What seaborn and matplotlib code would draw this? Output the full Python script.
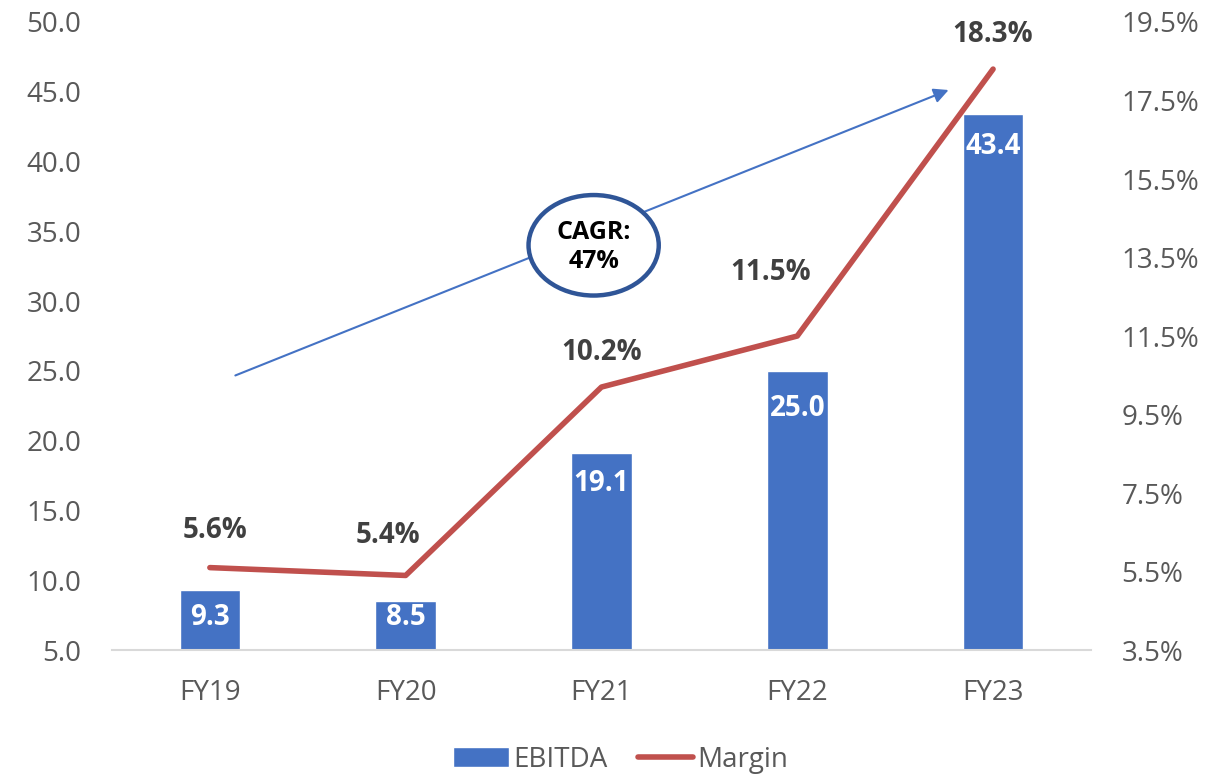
import matplotlib
matplotlib.use("Agg")
import matplotlib.pyplot as plt
import seaborn as sns
import pandas as pd
from matplotlib.patches import Ellipse

categories = ["FY19", "FY20", "FY21", "FY22", "FY23"]
ebitda = [9.3, 8.5, 19.1, 25.0, 43.4]
margin = [5.6, 5.4, 10.2, 11.5, 18.3]
left_ticks = [5.0, 10.0, 15.0, 20.0, 25.0, 30.0, 35.0, 40.0, 45.0, 50.0]
right_ticks = [3.5, 5.5, 7.5, 9.5, 11.5, 13.5, 15.5, 17.5, 19.5]

sns.set_theme(style="white")
plt.rcParams["font.family"] = ["Open Sans", "DejaVu Sans"]

BLUE = "#4472C4"
RED = "#C0504D"
GRAY = "#595959"

df = pd.DataFrame({"cat": categories, "ebitda": ebitda, "margin": margin})

fig = plt.figure(figsize=(12.29, 7.77), dpi=100)
ax = fig.add_axes([0.0911, 0.1634, 0.7966, 0.8083])

sns.barplot(data=df, x="cat", y="ebitda", color=BLUE, width=0.31, ax=ax,
            saturation=1, label="EBITDA")
ax.set_ylim(5, 50)
ax.set_xlim(-0.5, 4.5)
ax.set_yticks(left_ticks)
ax.set_yticklabels([f"{v:.1f}" for v in left_ticks])
ax.set_xlabel("")
ax.set_ylabel("")
for s in ["top", "right", "left"]:
    ax.spines[s].set_visible(False)
ax.spines["bottom"].set_color("#D9D9D9")
ax.spines["bottom"].set_linewidth(1.5)
ax.tick_params(axis="y", labelsize=20, colors=GRAY, length=0, pad=22)
ax.tick_params(axis="x", labelsize=20, colors=GRAY, length=0, pad=21)

bar_label_offsets = [-20, -12, -22, -27, -23]
for i, (v, dy) in enumerate(zip(ebitda, bar_label_offsets)):
    ax.annotate(f"{v:.1f}", (i, v), xytext=(0, dy), textcoords="offset points",
                ha="center", va="center", color="white", fontsize=20, fontweight="bold")

ax2 = ax.twinx()
sns.lineplot(data=df, x="cat", y="margin", color=RED, linewidth=4, ax=ax2,
             sort=False, label="Margin", legend=False)
ax2.set_ylim(3.5, 19.5)
ax2.set_yticks(right_ticks)
ax2.set_yticklabels([f"{v:.1f}%" for v in right_ticks])
ax2.set_ylabel("")
for s in ["top", "right", "left", "bottom"]:
    ax2.spines[s].set_visible(False)
ax2.tick_params(axis="y", labelsize=20, colors=GRAY, length=0, pad=22)

label_offsets = [(4, 27), (-13, 29), (0, 25), (-19, 46), (0, 25)]
for i, (v, off) in enumerate(zip(margin, label_offsets)):
    ax2.annotate(f"{v:.1f}%", (i, v), xytext=off, textcoords="offset points",
                 ha="center", va="center", color="#404040", fontsize=20, fontweight="bold")

# CAGR arrow and bubble
ax.annotate("", xy=(3.786, 45.2), xytext=(0.117, 24.6),
            arrowprops=dict(arrowstyle="-|>", color=BLUE, lw=1.5, mutation_scale=22))
ell = Ellipse((1.96, 34.0), width=0.665, height=7.2, facecolor="white",
              edgecolor="#2F5597", linewidth=3.2, zorder=5)
ax.add_patch(ell)
ax.text(1.96, 33.9, "CAGR:\n47%", ha="center", va="center", fontsize=18,
        fontweight="bold", color="black", zorder=6, linespacing=1.2)

h1, l1 = ax.get_legend_handles_labels()
h2, l2 = ax2.get_legend_handles_labels()
leg = fig.legend(h1 + h2, l1 + l2, loc="center", bbox_to_anchor=(0.505, 0.022),
                 ncol=2, frameon=False, fontsize=20, handlelength=2.0,
                 handletextpad=0.15, columnspacing=1.1)
for t in leg.get_texts():
    t.set_color(GRAY)
if ax.get_legend():
    ax.get_legend().remove()

fig.savefig("out.png", dpi=100)
